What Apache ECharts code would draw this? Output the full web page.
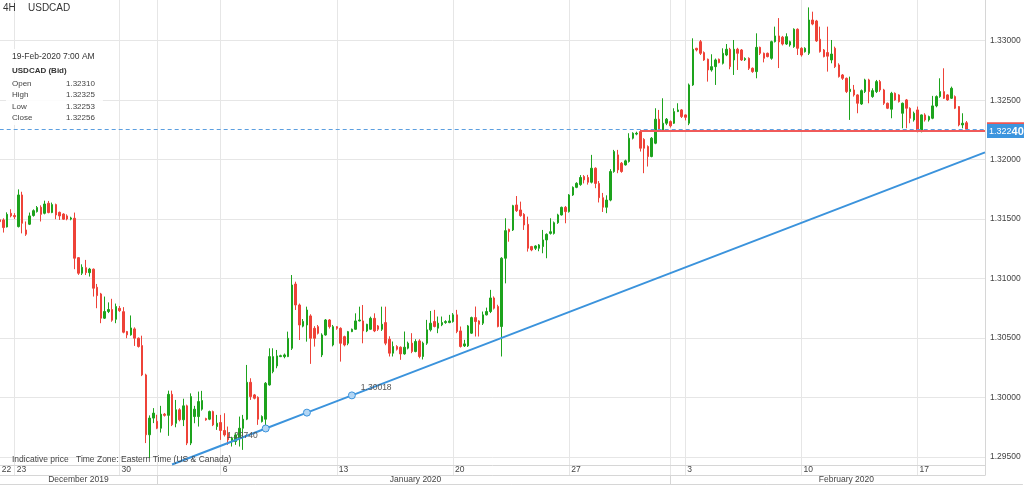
<!DOCTYPE html>
<html><head><meta charset="utf-8">
<script src="https://cdn.jsdelivr.net/npm/echarts@6/dist/echarts.min.js"></script>
<style>html,body{margin:0;padding:0;background:#fff}#c{width:1024px;height:486px}</style>
</head><body><div id="c"></div>
<script>
// ---- tick labels ----
const weekLabels = ['22','23','30','6','13','20','27','3','10','17'];
const monthLabels = ['December 2019','January 2020','February 2020'];
const monthStartIdx = [0, 42, 179];
// ---- candles [open, close, low, high] per week ----
const wkDec22 = [
[1.31494,1.31479,1.31460,1.31500],[1.31493,1.31429,1.31387,1.31507],[1.31434,1.31540,1.31430,1.31557],[1.31549,1.31527,1.31515,1.31583]];
const wkDec23 = [
[1.31530,1.31520,1.31500,1.31550],[1.31437,1.31703,1.31430,1.31750],[1.31703,1.31465,1.31380,1.31730],[1.31409,1.31373,1.31359,1.31480],
[1.31457,1.31527,1.31450,1.31555],[1.31530,1.31571,1.31521,1.31582],[1.31563,1.31597,1.31555,1.31610],[1.31600,1.31540,1.31480,1.31616],
[1.31549,1.31627,1.31540,1.31655],[1.31633,1.31555,1.31549,1.31653],[1.31555,1.31622,1.31550,1.31639],[1.31622,1.31535,1.31499,1.31630],
[1.31557,1.31527,1.31493,1.31563],[1.31543,1.31499,1.31493,1.31549],[1.31527,1.31501,1.31490,1.31540],[1.31500,1.31510,1.31490,1.31520],
[1.31507,1.31171,1.31079,1.31555],[1.31176,1.31045,1.31031,1.31180],[1.31045,1.31095,1.31030,1.31120],[1.31092,1.31050,1.31030,1.31157],
[1.31050,1.31080,1.31017,1.31090],[1.31079,1.30919,1.30849,1.31085],[1.30927,1.30857,1.30751,1.30955],[1.30871,1.30667,1.30625,1.30880],
[1.30667,1.30723,1.30660,1.30849],[1.30723,1.30740,1.30710,1.30800],[1.30740,1.30650,1.30637,1.30830],[1.30658,1.30765,1.30625,1.30790]];
const wkDec30 = [
[1.30750,1.30730,1.30720,1.30770],[1.30722,1.30549,1.30540,1.30760],[1.30555,1.30527,1.30499,1.30560],[1.30527,1.30585,1.30520,1.30690],
[1.30577,1.30499,1.30434,1.30590],[1.30499,1.30429,1.30420,1.30505],[1.30437,1.30190,1.30180,1.30520],[1.30190,1.29687,1.29617,1.30200],
[1.29687,1.29827,1.29490,1.29850],[1.29827,1.29869,1.29785,1.29911],[1.29800,1.29742,1.29734,1.29855],[1.29742,1.29860,1.29706,1.29930],
[1.29860,1.29850,1.29840,1.29870],[1.29850,1.30027,1.29678,1.30058],[1.30027,1.29771,1.29760,1.30058],[1.29783,1.29897,1.29750,1.29980],
[1.29897,1.29813,1.29800,1.29910],[1.29813,1.29930,1.29760,1.29990],[1.29930,1.29617,1.29600,1.29940],[1.29617,1.30008,1.29600,1.30035],
[1.29840,1.29902,1.29784,1.29930],[1.29840,1.29966,1.29756,1.30050],[1.29902,1.29975,1.29890,1.30056],[1.29823,1.29812,1.29805,1.29830],
[1.29818,1.29882,1.29810,1.29890],[1.29882,1.29770,1.29760,1.29890],[1.29756,1.29784,1.29728,1.29854]];
const wkJan06 = [
[1.29790,1.29723,1.29644,1.29854],[1.29723,1.29686,1.29672,1.29868],[1.29700,1.29644,1.29602,1.29756],[1.29630,1.29658,1.29588,1.29670],
[1.29630,1.29686,1.29602,1.29700],[1.29658,1.29742,1.29588,1.29840],[1.29742,1.29818,1.29560,1.29854],[1.29818,1.30128,1.29810,1.30274],
[1.30128,1.30008,1.29980,1.30162],[1.30022,1.29994,1.29985,1.30030],[1.30002,1.29818,1.29770,1.30010],[1.29798,1.29840,1.29790,1.29850],
[1.29818,1.30120,1.29756,1.30130],[1.30106,1.30344,1.30100,1.30414],[1.30218,1.30344,1.30204,1.30414],[1.30266,1.30350,1.30246,1.30400],
[1.30344,1.30352,1.30340,1.30360],[1.30344,1.30358,1.30330,1.30370],[1.30344,1.30498,1.30340,1.30554],[1.30414,1.30946,1.30400,1.31030],
[1.30954,1.30778,1.30736,1.30974],[1.30778,1.30610,1.30484,1.30790],[1.30600,1.30640,1.30590,1.30660],[1.30610,1.30736,1.30470,1.30764],
[1.30686,1.30498,1.30283,1.30700],[1.30582,1.30498,1.30428,1.30600],[1.30596,1.30540,1.30530,1.30610],[1.30358,1.30526,1.30340,1.30540],
[1.30526,1.30652,1.30520,1.30660],[1.30652,1.30596,1.30580,1.30660],[1.30442,1.30596,1.30430,1.30610]];
const wkJan13 = [
[1.30596,1.30582,1.30570,1.30600],[1.30582,1.30456,1.30302,1.30590],[1.30512,1.30442,1.30430,1.30520],[1.30456,1.30554,1.30440,1.30560],
[1.30554,1.30574,1.30550,1.30580],[1.30574,1.30644,1.30570,1.30708],[1.30644,1.30652,1.30640,1.30764],[1.30644,1.30560,1.30456,1.30778],
[1.30560,1.30616,1.30550,1.30620],[1.30574,1.30666,1.30570,1.30680],[1.30666,1.30560,1.30550,1.30708],[1.30602,1.30574,1.30560,1.30610],
[1.30574,1.30616,1.30560,1.30764],[1.30630,1.30457,1.30440,1.30764],[1.30490,1.30373,1.30345,1.30515],[1.30373,1.30429,1.30345,1.30471],
[1.30429,1.30406,1.30395,1.30440],[1.30423,1.30367,1.30317,1.30430],[1.30367,1.30423,1.30360,1.30555],[1.30415,1.30457,1.30405,1.30470],
[1.30457,1.30387,1.30373,1.30541],[1.30387,1.30471,1.30380,1.30490],[1.30476,1.30345,1.30330,1.30490],[1.30345,1.30457,1.30320,1.30470],
[1.30457,1.30569,1.30443,1.30653],[1.30569,1.30625,1.30555,1.30728],[1.30639,1.30597,1.30590,1.30737],[1.30583,1.30625,1.30541,1.30681],
[1.30611,1.30630,1.30600,1.30681],[1.30630,1.30639,1.30620,1.30650],[1.30630,1.30644,1.30625,1.30695]];
const wkJan20 = [
[1.30639,1.30695,1.30630,1.30710],[1.30695,1.30555,1.30541,1.30737],[1.30560,1.30429,1.30420,1.30597],[1.30434,1.30451,1.30425,1.30485],
[1.30434,1.30602,1.30425,1.30610],[1.30541,1.30672,1.30535,1.30680],[1.30672,1.30639,1.30513,1.30765],[1.30644,1.30616,1.30513,1.30650],
[1.30625,1.30695,1.30610,1.30723],[1.30695,1.30723,1.30690,1.30756],[1.30723,1.30837,1.30710,1.30905],[1.30837,1.30751,1.30740,1.30850],
[1.30765,1.30597,1.30590,1.30780],[1.30597,1.31171,1.30345,1.31180],[1.31171,1.31403,1.30960,1.31507],[1.31414,1.31394,1.31310,1.31420],
[1.31409,1.31613,1.31400,1.31620],[1.31619,1.31571,1.31560,1.31694],[1.31577,1.31529,1.31520,1.31647],[1.31540,1.31451,1.31409,1.31550],
[1.31456,1.31255,1.31227,1.31521],[1.31269,1.31241,1.31230,1.31275],[1.31255,1.31274,1.31240,1.31280],[1.31255,1.31283,1.31230,1.31290],
[1.31269,1.31325,1.31213,1.31409],[1.31325,1.31372,1.31171,1.31380],[1.31380,1.31394,1.31370,1.31507],[1.31380,1.31470,1.31370,1.31480],
[1.31470,1.31535,1.31460,1.31545],[1.31535,1.31599,1.31530,1.31605],[1.31599,1.31563,1.31465,1.31610]];
const wkJan27 = [
[1.31563,1.31703,1.31555,1.31710],[1.31703,1.31767,1.31695,1.31775],[1.31767,1.31801,1.31760,1.31810],[1.31790,1.31850,1.31780,1.31870],
[1.31858,1.31830,1.31800,1.31870],[1.31850,1.31810,1.31790,1.31872],[1.31810,1.31928,1.31800,1.32040],[1.31928,1.31800,1.31760,1.31935],
[1.31800,1.31680,1.31640,1.31820],[1.31680,1.31600,1.31560,1.31720],[1.31600,1.31660,1.31550,1.31700],[1.31660,1.31900,1.31650,1.31920],
[1.31900,1.32068,1.31890,1.32082],[1.32040,1.31914,1.31886,1.32082],[1.31970,1.31900,1.31890,1.31980],[1.31956,1.31990,1.31950,1.32000],
[1.31984,1.32180,1.31975,1.32222],[1.32180,1.32222,1.32170,1.32230],[1.32215,1.32222,1.32205,1.32235],[1.32236,1.32096,1.32068,1.32250],
[1.32170,1.32096,1.31886,1.32180],[1.32110,1.32026,1.31942,1.32120],[1.32026,1.32180,1.32020,1.32190],[1.32138,1.32340,1.32130,1.32432],
[1.32340,1.32250,1.32240,1.32418],[1.32250,1.32306,1.32240,1.32516],[1.32306,1.32340,1.32290,1.32350],[1.32320,1.32284,1.32270,1.32330],
[1.32306,1.32404,1.32300,1.32432],[1.32404,1.32418,1.32400,1.32474],[1.32418,1.32362,1.32350,1.32425]];
const wkFeb03 = [
[1.32376,1.32356,1.32330,1.32380],[1.32306,1.32628,1.32290,1.32640],[1.32628,1.32928,1.32620,1.33020],[1.32936,1.32922,1.32910,1.32940],
[1.32992,1.32894,1.32880,1.33006],[1.32900,1.32838,1.32830,1.32910],[1.32844,1.32754,1.32656,1.32850],[1.32754,1.32782,1.32740,1.32886],
[1.32782,1.32838,1.32628,1.32850],[1.32844,1.32816,1.32810,1.32850],[1.32810,1.32894,1.32800,1.32936],[1.32880,1.32928,1.32870,1.32972],
[1.32928,1.32782,1.32760,1.32940],[1.32838,1.32928,1.32712,1.33006],[1.32928,1.32894,1.32754,1.32940],[1.32922,1.32838,1.32830,1.32930],
[1.32840,1.32850,1.32830,1.32860],[1.32852,1.32768,1.32754,1.32860],[1.32768,1.32740,1.32730,1.32775],[1.32740,1.32944,1.32684,1.33062],
[1.32944,1.32894,1.32880,1.32950],[1.32894,1.32852,1.32818,1.32900],[1.32894,1.32866,1.32860,1.32900],[1.32852,1.32992,1.32840,1.33000],
[1.32992,1.33040,1.32985,1.33118],[1.33040,1.32990,1.32770,1.33190],[1.33030,1.32972,1.32960,1.33040],[1.32972,1.33034,1.32964,1.33062],
[1.32964,1.32992,1.32950,1.33000],[1.32950,1.33096,1.32940,1.33104],[1.33096,1.32936,1.32880,1.33104]];
const wkFeb10 = [
[1.32936,1.32880,1.32866,1.32945],[1.32908,1.32936,1.32900,1.32945],[1.32894,1.33174,1.32880,1.33280],[1.33174,1.33140,1.33130,1.33244],
[1.33166,1.32998,1.32990,1.33175],[1.33012,1.32908,1.32900,1.33118],[1.32922,1.32866,1.32860,1.32930],[1.32900,1.32870,1.32740,1.33118],
[1.32838,1.32888,1.32810,1.33006],[1.32936,1.32782,1.32770,1.32950],[1.32796,1.32698,1.32690,1.32810],[1.32712,1.32684,1.32670,1.32720],
[1.32684,1.32572,1.32560,1.32690],[1.32572,1.32592,1.32334,1.32698],[1.32586,1.32544,1.32530,1.32628],[1.32544,1.32474,1.32390,1.32550],
[1.32468,1.32580,1.32460,1.32590],[1.32572,1.32670,1.32560,1.32680],[1.32670,1.32572,1.32474,1.32680],[1.32530,1.32580,1.32520,1.32600],
[1.32572,1.32656,1.32560,1.32670],[1.32656,1.32586,1.32570,1.32670],[1.32586,1.32474,1.32460,1.32595],[1.32474,1.32432,1.32425,1.32480],
[1.32424,1.32558,1.32348,1.32570],[1.32558,1.32502,1.32495,1.32565],[1.32544,1.32488,1.32480,1.32550],[1.32390,1.32474,1.32264,1.32480],
[1.32502,1.32432,1.32264,1.32510],[1.32432,1.32348,1.32306,1.32440],[1.32334,1.32390,1.32320,1.32404]];
const wkFeb17 = [
[1.32418,1.32236,1.32230,1.32446],[1.32236,1.32376,1.32230,1.32380],[1.32376,1.32334,1.32320,1.32390],[1.32334,1.32362,1.32320,1.32370],
[1.32348,1.32452,1.32340,1.32536],[1.32452,1.32530,1.32440,1.32540],[1.32530,1.32572,1.32520,1.32684],[1.32572,1.32516,1.32510,1.32768],
[1.32544,1.32502,1.32495,1.32550],[1.32516,1.32600,1.32510,1.32614],[1.32530,1.32432,1.32425,1.32540],[1.32446,1.32292,1.32280,1.32450],
[1.32292,1.32306,1.32264,1.32390],[1.32310,1.32256,1.32253,1.32325]];
const weeks = [wkDec22, wkDec23, wkDec30, wkJan06, wkJan13, wkJan20, wkJan27, wkFeb03, wkFeb10, wkFeb17];
const padBars = 5;
// ---- drawings ----
const trendIdx = [46, 71, 82, 94, 263];
const trendVal = [1.29437, 1.29740, 1.29873, 1.30018, 1.32061];
const trendTags = ['', '1.29740', '', '1.30018', ''];
const supportLevel = 1.32240;
const supportStartIdx = 171;
const priceTag = ['1.322', '40'];
const infoTime = '19-Feb-2020 7:00 AM';

// ---- build ----
const ohlc = [], cats = [], weekStart = [];
weeks.forEach((w, k) => { weekStart.push(ohlc.length); w.forEach((b, j) => { cats.push(weekLabels[k] + '|' + j); ohlc.push(b); }); });
for (let p = 0; p < padBars; p++) cats.push('pad|' + p);
const monthCount = 274;
const monthCats = []; for (let i = 0; i < monthCount; i++) monthCats.push('m' + i);
const monthMid = monthStartIdx.map((s, k) => Math.round((s + (k + 1 < monthStartIdx.length ? monthStartIdx[k + 1] : monthCount - 1)) / 2));
const lastBar = wkFeb17[wkFeb17.length - 1];
const lastClose = lastBar[1];

const FONT = 'Liberation Sans, Arial, sans-serif';
const GREEN = '#1da31d', RED = '#ee4238', GRID = '#e6e6e6', AXIS = '#d6d6d6', TXT = '#444';
const step = 3.7464;
const yMin = 1.293487, yMax = 1.333842;

const chart = echarts.init(document.getElementById('c'), null, {renderer: 'canvas'});
const lblRich = { a: {fontSize: 9, color: '#fff', fontFamily: FONT}, b: {fontSize: 11, fontWeight: 'bold', color: '#fff', fontFamily: FONT} };
const tagLabel = (bg) => ({show: true, position: 'end', distance: 2, formatter: '{a|' + priceTag[0] + '}{b|' + priceTag[1] + '}', rich: lblRich, backgroundColor: bg, padding: [2, 2, 1, 2]});
const redLine = {type: 'solid', color: '#f05a5a', width: 2};
const dashLine = {type: [4, 3], color: '#5c9fe0', width: 1};
chart.setOption({
  animation: false,
  textStyle: {fontFamily: FONT},
  title: [
    {text: '4H', left: 3, top: 3, padding: 0, textStyle: {fontSize: 10, fontWeight: 'normal', color: '#333'}},
    {text: 'USDCAD', left: 28, top: 3, padding: 0, textStyle: {fontSize: 10, fontWeight: 'normal', color: '#333'}},
    {left: 6, top: 46, padding: [3, 8, 3, 6], backgroundColor: 'rgba(255,255,255,0.85)',
     text: '{d|' + infoTime + '}\n{s|USDCAD (Bid)}\n{l|Open}{v|' + lastBar[0].toFixed(5) + '}\n{l|High}{v|' + lastBar[3].toFixed(5) + '}\n{l|Low}{v|' + lastBar[2].toFixed(5) + '}\n{l|Close}{v|' + lastBar[1].toFixed(5) + '}',
     textStyle: {fontWeight: 'normal', rich: {
       d: {fontSize: 8.5, fontWeight: 'normal', color: '#333', lineHeight: 15, fontFamily: FONT},
       s: {fontSize: 8, fontWeight: 'bold', color: '#333', lineHeight: 14, fontFamily: FONT},
       l: {fontSize: 8, fontWeight: 'normal', color: TXT, width: 54, lineHeight: 11.4, fontFamily: FONT},
       v: {fontSize: 8, fontWeight: 'normal', color: TXT, lineHeight: 11.4, fontFamily: FONT}}}},
    {text: 'Indicative price', left: 12, top: 455, padding: 0, textStyle: {fontSize: 8.5, fontWeight: 'normal', color: TXT}},
    {text: 'Time Zone: Eastern Time (US & Canada)', left: 76, top: 455, padding: 0, textStyle: {fontSize: 8.5, fontWeight: 'normal', color: TXT}}
  ],
  grid: [
    {left: -0.3, right: 39, top: -5, bottom: 11, outerBoundsMode: 'none', containLabel: false},
    {left: -0.3, width: (monthCount - 1) * step, top: 475, bottom: 2, outerBoundsMode: 'none', containLabel: false}
  ],
  xAxis: [
    {type: 'category', gridIndex: 0, data: cats, boundaryGap: false,
     axisLine: {show: true, onZero: false, lineStyle: {color: AXIS}}, axisTick: {show: false},
     axisLabel: {show: true, inside: true, margin: 1, interval: (i) => weekStart.includes(i), formatter: (v) => v.split('|')[0],
       align: 'left', padding: [0, 0, 0, 2], color: TXT, fontSize: 8.5, fontFamily: FONT},
     splitLine: {show: true, interval: (i) => weekStart.includes(i) || monthStartIdx.includes(i), lineStyle: {color: GRID}}},
    {type: 'category', gridIndex: 0, data: cats, boundaryGap: false, position: 'bottom', offset: -10,
     axisLine: {show: true, onZero: false, lineStyle: {color: AXIS}}, axisTick: {show: false}, axisLabel: {show: false}, splitLine: {show: false}},
    {type: 'category', gridIndex: 1, data: monthCats, boundaryGap: false,
     axisLine: {show: true, onZero: false, lineStyle: {color: AXIS}},
     axisTick: {show: true, inside: true, length: 9, interval: (i) => i > 0 && monthStartIdx.includes(i), lineStyle: {color: AXIS}},
     axisLabel: {show: true, inside: true, margin: 0, interval: (i) => monthMid.includes(i), formatter: (v, i) => monthLabels[monthMid.indexOf(i)] || '',
       color: TXT, fontSize: 8.5, fontFamily: FONT},
     splitLine: {show: false}}
  ],
  yAxis: [
    {type: 'value', gridIndex: 0, position: 'right', min: yMin, max: yMax, minInterval: 0.005, maxInterval: 0.005, splitNumber: 8,
     axisLine: {show: true, onZero: false, lineStyle: {color: AXIS}}, axisTick: {show: false},
     axisLabel: {formatter: (v) => v.toFixed(5), showMinLabel: false, showMaxLabel: false, margin: 5, color: TXT, fontSize: 8.5, fontFamily: FONT},
     splitLine: {show: true, lineStyle: {color: GRID}}},
    {type: 'value', gridIndex: 1, show: false}
  ],
  series: [
    {type: 'candlestick', xAxisIndex: 0, yAxisIndex: 0, data: ohlc, barWidth: 2,
     itemStyle: {color: GREEN, color0: RED, borderColor: GREEN, borderColor0: RED, borderWidth: 1},
     markLine: {silent: true, symbol: 'none', animation: false,
       data: [
         [{coord: [0, lastClose], lineStyle: dashLine, label: tagLabel('#ee5552')},
          {coord: [cats.length - 1, lastClose], lineStyle: dashLine, label: tagLabel('#ee5552')}],
         [{coord: [supportStartIdx, supportLevel], lineStyle: redLine, label: tagLabel('#3d95de')},
          {coord: [cats.length - 1, supportLevel], lineStyle: redLine, label: tagLabel('#3d95de')}]
       ]}},
    {type: 'line', xAxisIndex: 0, yAxisIndex: 0, z: 4, silent: true, showAllSymbol: true, showSymbol: true,
     lineStyle: {color: '#3b93dc', width: 2},
     itemStyle: {color: '#b3d6f4', borderColor: '#3b93dc', borderWidth: 1},
     data: trendIdx.map((ix, k) => ({
       value: [ix, trendVal[k]],
       symbol: (k === 0 || k === trendIdx.length - 1) ? 'none' : 'circle',
       symbolSize: 7,
       label: trendTags[k] ? {show: true, formatter: trendTags[k], color: '#555', fontSize: 8.5, fontFamily: FONT,
         position: k === 1 ? 'left' : 'right', distance: k === 1 ? 4 : 5, offset: k === 1 ? [0, 7] : [0, -8]} : {show: false}
     }))}
  ]
});
</script>
</body></html>
